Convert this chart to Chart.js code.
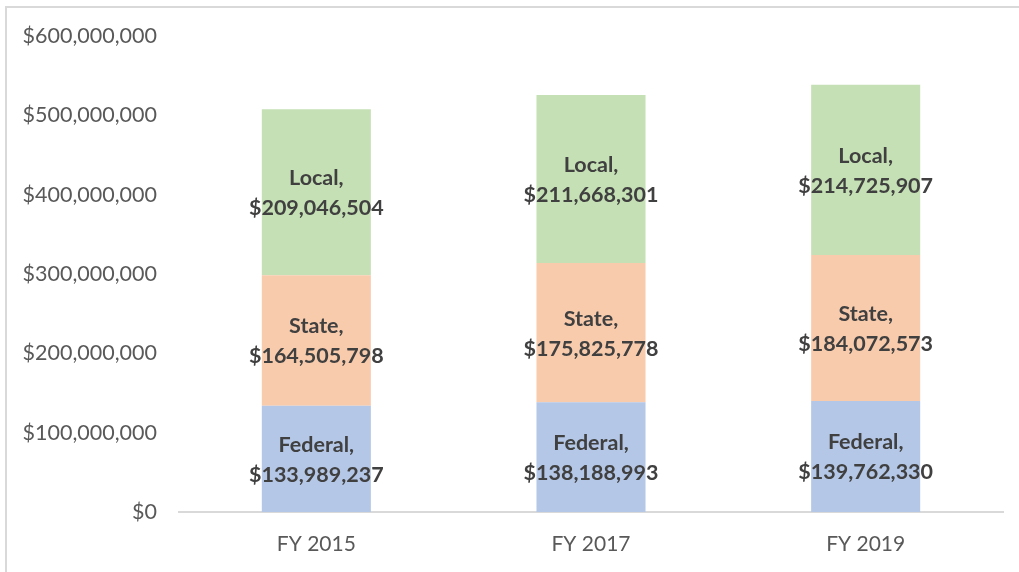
<!DOCTYPE html>
<html>
<head>
<meta charset="utf-8">
<script src="https://cdn.jsdelivr.net/npm/chart.js@4"></script>
<style>
  html, body { margin: 0; padding: 0; background: #fff; overflow: hidden; }
  #frame { position: absolute; left: 5px; top: 6px; width: 1100px; height: 700px; border: 2px solid #d9d9d9; }
  #wrap { position: absolute; left: 0; top: 0; width: 1019px; height: 572px; }
</style>
</head>
<body>
<div id="frame"></div>
<div id="wrap"><canvas id="fundChart"></canvas></div>
<script>
const categories = ['FY 2015', 'FY 2017', 'FY 2019'];
const seriesNames = ['Federal', 'State', 'Local'];
const federalValues = [133989237, 138188993, 139762330];
const stateValues = [164505798, 175825778, 184072573];
const localValues = [209046504, 211668301, 214725907];
const yTicks = [0, 100000000, 200000000, 300000000, 400000000, 500000000, 600000000];

const money = v => '$' + v.toLocaleString('en-US');

// draws "Name," / "$value" in the middle of every segment
const segmentLabels = {
  id: 'segmentLabels',
  afterDatasetsDraw(chart) {
    const ctx = chart.ctx;
    ctx.save();
    ctx.font = 'bold 21.5px Lato';
    ctx.fillStyle = '#404040';
    ctx.textAlign = 'center';
    ctx.textBaseline = 'middle';
    chart.data.datasets.forEach((ds, i) => {
      chart.getDatasetMeta(i).data.forEach((bar, j) => {
        const mid = (bar.y + bar.base) / 2;
        ctx.fillText(ds.label + ',', bar.x, mid - 14);
        ctx.fillText(money(ds.data[j]), bar.x, mid + 16);
      });
    });
    ctx.restore();
  }
};

new Chart(document.getElementById('fundChart'), {
  type: 'bar',
  data: {
    labels: categories,
    datasets: [
      { label: seriesNames[0], data: federalValues, backgroundColor: '#b4c7e7' },
      { label: seriesNames[1], data: stateValues, backgroundColor: '#f8cbad' },
      { label: seriesNames[2], data: localValues, backgroundColor: '#c5e0b4' }
    ]
  },
  options: {
    responsive: true,
    maintainAspectRatio: false,
    animation: false,
    barPercentage: 1,
    categoryPercentage: 0.397,
    layout: { padding: { top: 36, right: 16, bottom: 0, left: 0 } },
    plugins: { legend: { display: false }, tooltip: { enabled: false } },
    scales: {
      x: {
        stacked: true,
        grid: { display: false, drawTicks: false },
        border: { display: true, color: '#d9d9d9', width: 2 },
        ticks: { color: '#595959', font: { family: 'Lato', size: 21 }, padding: 20 },
        afterFit(scale) { scale.height = 60; }
      },
      y: {
        stacked: true,
        min: 0,
        max: 600000000,
        grid: { display: false, drawTicks: false },
        border: { display: false },
        afterBuildTicks(scale) { scale.ticks = yTicks.map(v => ({ value: v })); },
        ticks: {
          color: '#595959',
          font: { family: 'Lato', size: 21.5 },
          padding: 22,
          callback: v => money(v)
        },
        afterFit(scale) { scale.width = 179; }
      }
    }
  },
  plugins: [segmentLabels]
});
</script>
</body>
</html>
